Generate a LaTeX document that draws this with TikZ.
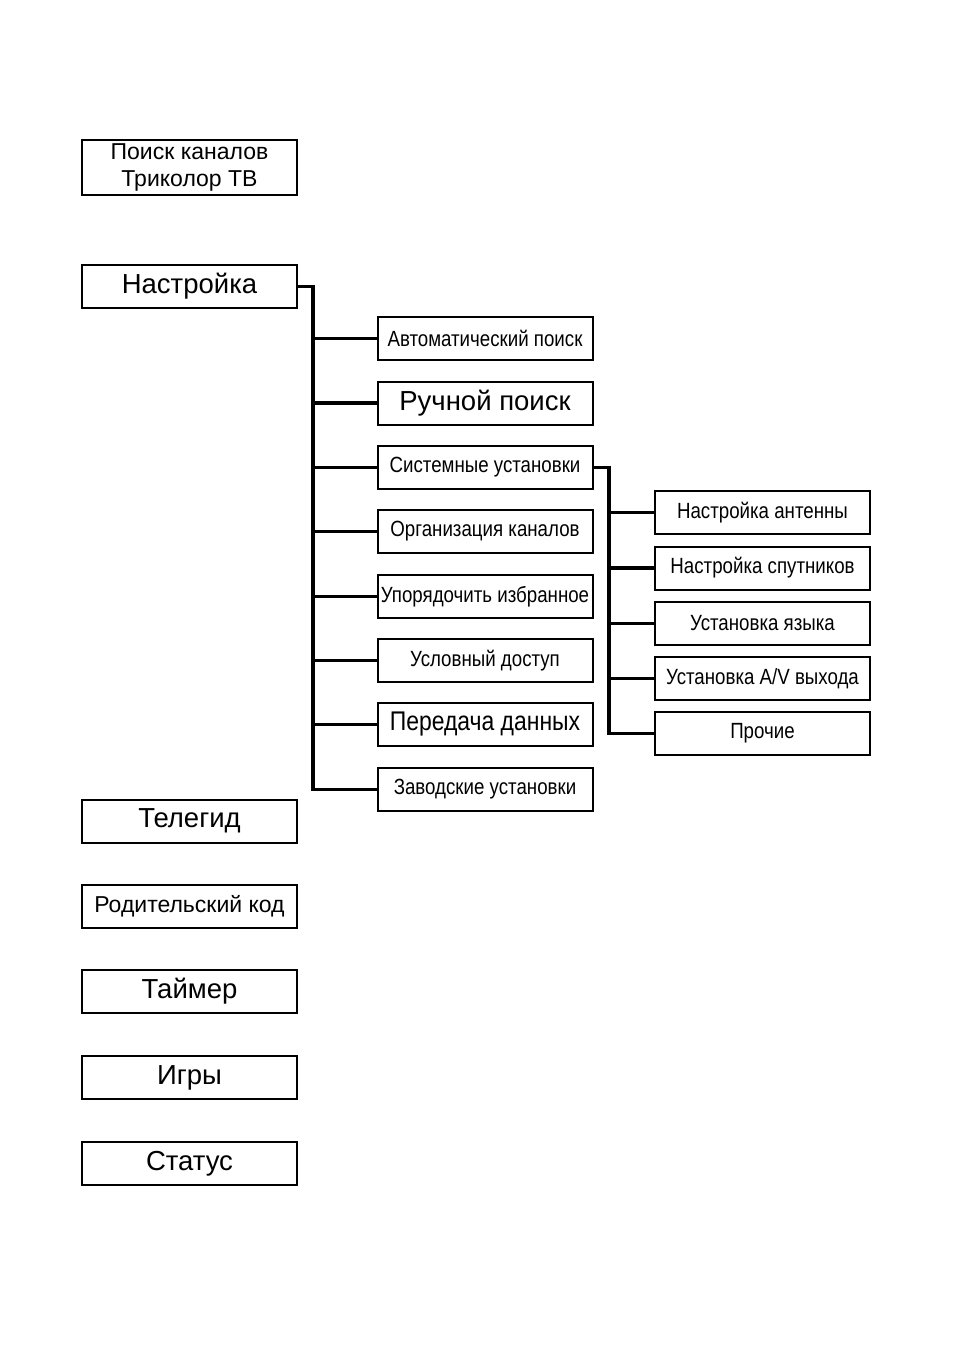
\documentclass[tikz,border=0pt]{standalone}
\usepackage{fontspec}
\setmainfont{Liberation Sans}
\newfontfamily\narrowfont[FakeStretch=0.85]{Liberation Sans}
\usetikzlibrary{positioning}

\tikzset{
  menubox/.style={draw=black, line width=2pt, minimum width=215pt, minimum height=43pt, inner sep=1pt, align=center, font=\fontsize{23}{27}\selectfont},
  bigtext/.style={font=\fontsize{27.5}{30}\selectfont},
  narrowtext/.style={font=\narrowfont\fontsize{22}{25}\selectfont},
  link/.style={line width=3.8pt}
}

\begin{document}
\begin{tikzpicture}[x=1pt, y=-1pt]
  \useasboundingbox (0,0) rectangle (954,1351);

  % left column
  \node[menubox, minimum height=55pt] (poisk) at (189.5,167.5) {Поиск каналов\\Триколор ТВ};
  \node[menubox, bigtext] (nastr) at (189.5,286.5) {Настройка};
  \node[menubox, bigtext] (teleg) at (189.5,821) {Телегид};
  \node[menubox] (rodit) at (189.5,906.5) {Родительский код};
  \node[menubox, bigtext] (taimer) at (189.5,991.5) {Таймер};
  \node[menubox, bigtext] (igry) at (189.5,1077.5) {Игры};
  \node[menubox, bigtext] (status) at (189.5,1163.5) {Статус};

  % submenu of Настройка
  \node[menubox, narrowtext] (avto) at (485,338.5) {Автоматический поиск};
  \node[menubox, bigtext] (ruch) at (485,403) {Ручной поиск};
  \node[menubox, narrowtext] (sist) at (485,467.5) {Системные установки};
  \node[menubox, narrowtext] (org) at (485,531.5) {Организация каналов};
  \node[menubox, narrowtext] (upor) at (485,596.5) {Упорядочить избранное};
  \node[menubox, narrowtext] (uslov) at (485,660.5) {Условный доступ};
  \node[menubox, font=\narrowfont\fontsize{27}{30}\selectfont] (pered) at (485,724.5) {Передача данных};
  \node[menubox, narrowtext] (zavod) at (485,789.5) {Заводские установки};

  % submenu of Системные установки
  \node[menubox, narrowtext] (anten) at (762.5,512.5) {Настройка антенны};
  \node[menubox, narrowtext] (sputn) at (762.5,568) {Настройка спутников};
  \node[menubox, narrowtext] (yazyk) at (762.5,623.5) {Установка языка};
  \node[menubox, narrowtext] (avvyh) at (762.5,678.5) {Установка A/V выхода};
  \node[menubox, narrowtext] (proch) at (762.5,733.5) {Прочие};

  % connectors
  \coordinate (trunk1) at (313,286.5);
  \draw[link] (nastr.east) -- (trunk1) |- (zavod.west);
  \foreach \n in {avto,ruch,sist,org,upor,uslov,pered}
    \draw[link] (trunk1 |- \n.west) -- (\n.west);

  \coordinate (trunk2) at (609,467.5);
  \draw[link] (sist.east) -- (trunk2) |- (proch.west);
  \foreach \n in {anten,sputn,yazyk,avvyh}
    \draw[link] (trunk2 |- \n.west) -- (\n.west);
\end{tikzpicture}
\end{document}
